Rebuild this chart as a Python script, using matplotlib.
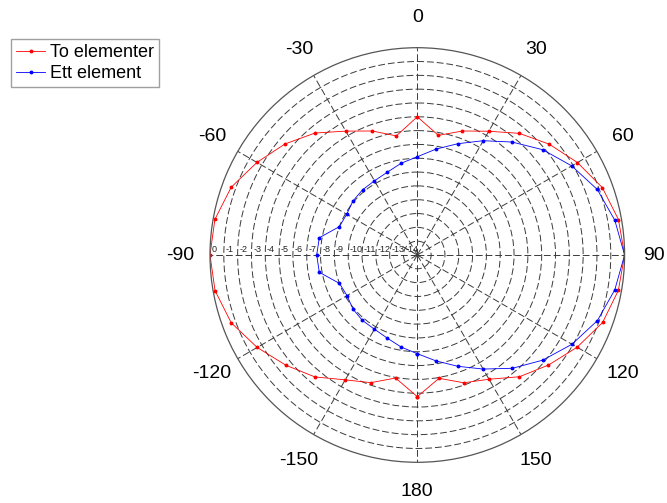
import numpy as np
import matplotlib
matplotlib.use("Agg")
import matplotlib.pyplot as plt

plt.rcParams['font.family'] = ['Liberation Sans', 'DejaVu Sans']

angles_deg = [-180, -170, -160, -150, -140, -130, -120, -110, -100, -90,
              -80, -70, -60, -50, -40, -30, -20, -10, 0,
              10, 20, 30, 40, 50, 60, 70, 80, 90,
              100, 110, 120, 130, 140, 150, 160, 170, 180]

to_elementer = [-4.75, -5.96, -5.17, -4.57, -3.48, -2.59, -1.62, -0.67, -0.14, 0.0,
                -0.13, -0.67, -1.60, -2.50, -3.48, -4.65, -5.45, -6.25, -5.00,
                -6.21, -5.45, -4.66, -3.51, -2.53, -1.62, -0.75, -0.22, 0.0,
                -0.23, -0.73, -1.65, -2.61, -3.50, -4.62, -5.16, -5.94, -4.75]

ett_element = [-7.86, -8.24, -8.61, -8.80, -8.82, -8.92, -9.13, -9.00, -7.80, -7.72,
               -7.80, -9.00, -9.10, -8.92, -8.84, -8.80, -8.63, -8.26, -7.89,
               -7.22, -6.43, -5.45, -4.33, -3.15, -2.10, -1.14, -0.49, 0.0,
               -0.49, -1.13, -2.08, -3.16, -4.30, -5.47, -6.43, -7.22, -7.86]

theta_ticks = [0, 30, 60, 90, 120, 150, 180, -150, -120, -90, -60, -30]
theta_labels = ['0', '30', '60', '90', '120', '150', '180', '-150', '-120', '-90', '-60', '-30']
r_ticks = [0, -1, -2, -3, -4, -5, -6, -7, -8, -9, -10, -11, -12, -13, -14]
r_min, r_max = -15, 0

W, H = 667, 503
fig = plt.figure(figsize=(W / 100, H / 100), dpi=100)
cx, cy, R = 417.3, 255.0, 207.3
ax = fig.add_axes([(cx - R) / W, 1 - (cy + R) / H, 2 * R / W, 2 * R / H], projection='polar')
ax.set_theta_zero_location('N')
ax.set_theta_direction(-1)

ax.set_xticks(np.deg2rad([t % 360 for t in theta_ticks]))
ax.set_xticklabels([])
ax.set_xlim(0, 2 * np.pi)
ax.set_yticks([r for r in r_ticks if r != 0])
ax.set_yticklabels([])
ax.set_ylim(r_min, r_max)
ax.grid(True, color='#3a3a3a', linestyle=(0, (7, 3)), linewidth=0.7)
ax.spines['polar'].set_color('#555555')
ax.spines['polar'].set_linewidth(0.9)
ax.tick_params(length=0)

th = np.deg2rad(angles_deg)
ax.plot(th, to_elementer, color='#ff0000', linewidth=0.6, marker='o', markersize=1.8,
        label='To elementer')
ax.plot(th, ett_element, color='#0000ff', linewidth=0.6, marker='o', markersize=1.8,
        label='Ett element')

# radial labels along the -90 direction
for r in r_ticks:
    ax.annotate(str(r), xy=(np.deg2rad(270), r), xytext=(1.2, 0.8), textcoords='offset points',
                ha='left', va='bottom', fontsize=6.5, color='#222222')

# angular labels
rl = 237.0 / R / 2
for a, lab in zip(theta_ticks, theta_labels):
    ar = np.deg2rad(a)
    ax.text(0.5 + rl * np.sin(ar), 0.5 + rl * np.cos(ar), lab, transform=ax.transAxes,
            ha='center', va='center', fontsize=14)

leg = fig.legend(loc='upper left', bbox_to_anchor=(11 / W, 1 - 39 / H), bbox_transform=fig.transFigure,
                 borderaxespad=0, fancybox=False, fontsize=13, handlelength=1.6,
                 handletextpad=0.25, borderpad=0.3, labelspacing=0.2)
leg.get_frame().set_edgecolor('#888888')
leg.get_frame().set_linewidth(1.0)

fig.savefig('out.png', dpi=100)
